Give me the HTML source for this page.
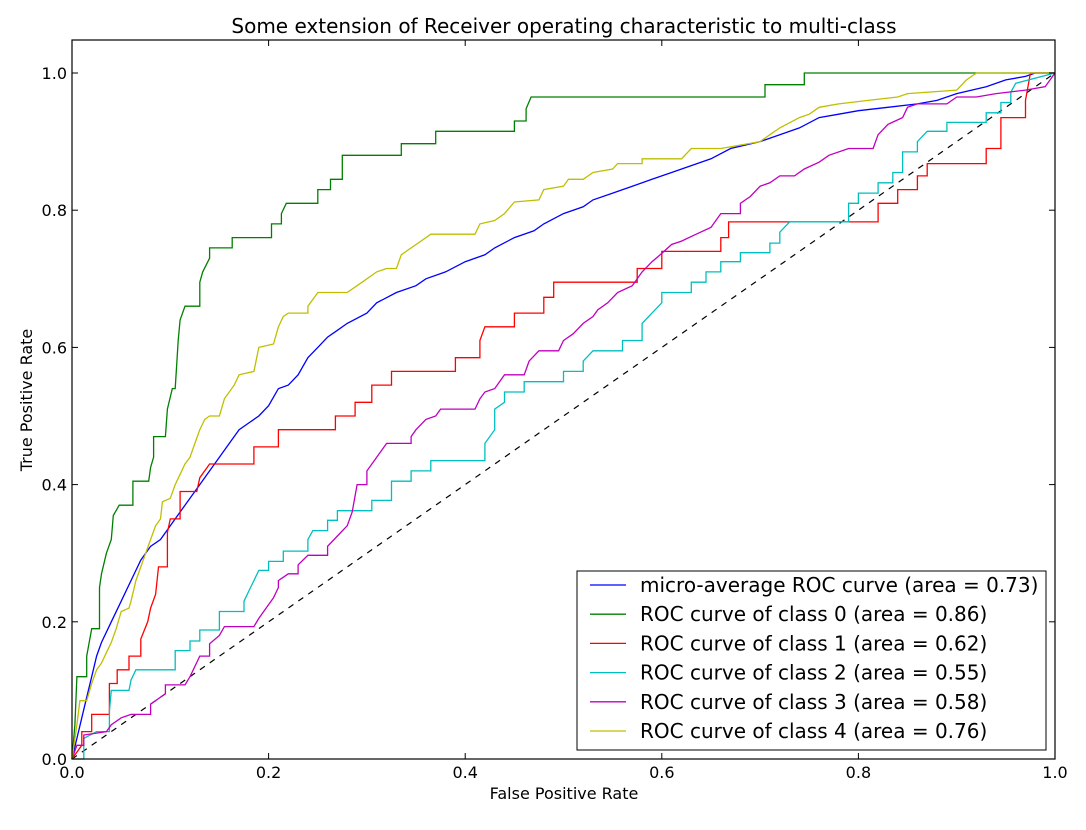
<!DOCTYPE html>
<html><head><meta charset="utf-8"><style>
body{margin:0;background:#fff;}
text{font-family:"DejaVu Sans","Liberation Sans",sans-serif;}
</style></head><body>
<svg id="chart" width="1086" height="825" xmlns="http://www.w3.org/2000/svg">
<rect width="1086" height="825" fill="#fff"/>
<text x="564" y="33" font-size="20" text-anchor="middle">Some extension of Receiver operating characteristic to multi-class</text>
<text x="564" y="799" font-size="16" text-anchor="middle">False Positive Rate</text>
<text x="32" y="400" font-size="16" text-anchor="middle" transform="rotate(-90 32 400)">True Positive Rate</text>
<g id="plot"></g>
</svg>
<script>
const xTicks=[0,0.2,0.4,0.6,0.8,1.0];
const yTicks=[0,0.2,0.4,0.6,0.8,1.0];
const xTickLabels=["0.0","0.2","0.4","0.6","0.8","1.0"];
const yTickLabels=["0.0","0.2","0.4","0.6","0.8","1.0"];
const seriesNames=["micro-average ROC curve (area = 0.73)","ROC curve of class 0 (area = 0.86)","ROC curve of class 1 (area = 0.62)","ROC curve of class 2 (area = 0.55)","ROC curve of class 3 (area = 0.58)","ROC curve of class 4 (area = 0.76)"];
const seriesColors=["#0000ff","#008000","#ff0000","#00bfbf","#bf00bf","#bfbf00"];
const microFpr=[0,0.005,0.01,0.015,0.02,0.025,0.03,0.04,0.05,0.06,0.07,0.08,0.09,0.1,0.11,0.12,0.13,0.14,0.15,0.16,0.17,0.18,0.19,0.2,0.21,0.22,0.23,0.24,0.25,0.26,0.27,0.28,0.3,0.31,0.33,0.35,0.36,0.38,0.4,0.42,0.43,0.45,0.47,0.48,0.5,0.52,0.53,0.55,0.57,0.59,0.61,0.63,0.65,0.67,0.7,0.72,0.74,0.76,0.78,0.8,0.83,0.86,0.88,0.9,0.93,0.95,0.97,0.98,1];
const microTpr=[0,0.03,0.06,0.09,0.12,0.15,0.17,0.2,0.23,0.26,0.29,0.31,0.32,0.34,0.36,0.38,0.4,0.42,0.44,0.46,0.48,0.49,0.5,0.515,0.54,0.545,0.56,0.585,0.6,0.615,0.625,0.635,0.65,0.665,0.68,0.69,0.7,0.71,0.725,0.735,0.745,0.76,0.77,0.78,0.795,0.805,0.815,0.825,0.835,0.845,0.855,0.865,0.875,0.89,0.9,0.91,0.92,0.935,0.94,0.945,0.95,0.955,0.96,0.97,0.98,0.99,0.995,1,1];
const c0Fpr=[0,0.003,0.005,0.015,0.015,0.02,0.028,0.028,0.03,0.035,0.04,0.042,0.048,0.062,0.062,0.078,0.08,0.083,0.083,0.095,0.097,0.102,0.105,0.108,0.11,0.115,0.13,0.13,0.133,0.14,0.14,0.163,0.163,0.203,0.203,0.213,0.213,0.218,0.25,0.25,0.263,0.263,0.275,0.275,0.335,0.335,0.37,0.37,0.45,0.45,0.462,0.462,0.467,0.705,0.705,0.745,0.745,1];
const c0Tpr=[0,0.05,0.12,0.12,0.15,0.19,0.19,0.25,0.27,0.3,0.32,0.355,0.37,0.37,0.405,0.405,0.425,0.44,0.47,0.47,0.51,0.54,0.54,0.61,0.64,0.66,0.66,0.695,0.71,0.73,0.745,0.745,0.76,0.76,0.78,0.78,0.795,0.81,0.81,0.83,0.83,0.845,0.845,0.88,0.88,0.897,0.897,0.915,0.915,0.93,0.93,0.948,0.965,0.965,0.983,0.983,1,1];
const c1Fpr=[0,0.01,0.01,0.02,0.02,0.038,0.038,0.046,0.046,0.058,0.058,0.07,0.07,0.077,0.08,0.085,0.088,0.097,0.097,0.1,0.11,0.11,0.127,0.13,0.14,0.185,0.185,0.21,0.21,0.268,0.268,0.288,0.288,0.305,0.305,0.325,0.325,0.39,0.39,0.415,0.415,0.42,0.45,0.45,0.48,0.48,0.49,0.49,0.575,0.575,0.6,0.6,0.66,0.66,0.668,0.668,0.82,0.82,0.84,0.84,0.86,0.86,0.87,0.87,0.93,0.93,0.945,0.945,0.97,0.97,0.975,1];
const c1Tpr=[0,0.02,0.04,0.04,0.065,0.065,0.11,0.11,0.13,0.13,0.15,0.15,0.175,0.2,0.22,0.24,0.28,0.28,0.33,0.35,0.35,0.39,0.39,0.41,0.43,0.43,0.455,0.455,0.48,0.48,0.5,0.5,0.52,0.52,0.545,0.545,0.565,0.565,0.585,0.585,0.61,0.63,0.63,0.65,0.65,0.673,0.673,0.695,0.695,0.715,0.715,0.74,0.74,0.76,0.76,0.783,0.783,0.81,0.81,0.83,0.83,0.85,0.85,0.868,0.868,0.89,0.89,0.935,0.935,0.96,1,1];
const c2Fpr=[0,0.012,0.012,0.025,0.038,0.038,0.04,0.058,0.06,0.065,0.105,0.105,0.12,0.12,0.13,0.13,0.15,0.15,0.175,0.175,0.18,0.185,0.19,0.2,0.2,0.215,0.215,0.24,0.24,0.245,0.26,0.26,0.27,0.27,0.305,0.305,0.325,0.325,0.345,0.345,0.365,0.365,0.42,0.42,0.43,0.43,0.44,0.44,0.46,0.46,0.5,0.5,0.52,0.52,0.53,0.56,0.56,0.58,0.58,0.59,0.6,0.6,0.63,0.63,0.645,0.645,0.66,0.66,0.68,0.68,0.71,0.71,0.72,0.72,0.73,0.79,0.79,0.8,0.8,0.82,0.82,0.835,0.835,0.845,0.845,0.86,0.86,0.87,0.89,0.89,0.93,0.93,0.945,0.945,0.955,0.955,0.96,1];
const c2Tpr=[0,0,0.03,0.04,0.04,0.07,0.1,0.1,0.115,0.13,0.13,0.158,0.158,0.172,0.172,0.188,0.188,0.215,0.215,0.23,0.245,0.26,0.275,0.275,0.288,0.288,0.303,0.303,0.32,0.333,0.333,0.348,0.348,0.362,0.362,0.377,0.377,0.405,0.405,0.42,0.42,0.435,0.435,0.46,0.48,0.51,0.52,0.535,0.535,0.55,0.55,0.565,0.565,0.58,0.595,0.595,0.61,0.61,0.635,0.65,0.665,0.68,0.68,0.695,0.695,0.71,0.71,0.725,0.725,0.738,0.738,0.752,0.752,0.768,0.783,0.783,0.81,0.81,0.825,0.825,0.84,0.84,0.855,0.855,0.885,0.885,0.9,0.915,0.915,0.928,0.928,0.942,0.942,0.957,0.957,0.972,0.985,1];
const c3Fpr=[0,0.005,0.012,0.012,0.035,0.04,0.05,0.06,0.08,0.08,0.095,0.095,0.115,0.12,0.125,0.13,0.14,0.14,0.15,0.155,0.185,0.19,0.195,0.2,0.205,0.21,0.21,0.22,0.23,0.23,0.24,0.26,0.26,0.27,0.28,0.285,0.29,0.3,0.3,0.31,0.32,0.345,0.345,0.35,0.36,0.37,0.375,0.41,0.415,0.42,0.43,0.44,0.46,0.465,0.475,0.495,0.5,0.51,0.52,0.53,0.535,0.545,0.555,0.57,0.58,0.59,0.6,0.61,0.62,0.635,0.65,0.66,0.68,0.68,0.69,0.7,0.71,0.72,0.735,0.745,0.76,0.77,0.79,0.815,0.82,0.83,0.845,0.85,0.86,0.89,0.9,0.92,0.94,0.97,0.99,1];
const c3Tpr=[0,0.02,0.02,0.035,0.04,0.05,0.06,0.065,0.065,0.08,0.095,0.108,0.108,0.12,0.135,0.15,0.15,0.168,0.18,0.193,0.193,0.205,0.215,0.225,0.235,0.25,0.26,0.27,0.27,0.283,0.297,0.297,0.31,0.325,0.34,0.36,0.4,0.4,0.42,0.44,0.46,0.46,0.47,0.48,0.495,0.5,0.51,0.51,0.525,0.535,0.54,0.56,0.56,0.58,0.595,0.595,0.61,0.62,0.635,0.645,0.655,0.665,0.68,0.69,0.71,0.725,0.737,0.75,0.755,0.765,0.775,0.795,0.795,0.81,0.82,0.835,0.84,0.85,0.85,0.86,0.87,0.88,0.89,0.89,0.91,0.925,0.935,0.95,0.955,0.955,0.965,0.965,0.97,0.975,0.98,1];
const c4Fpr=[0,0.005,0.008,0.015,0.02,0.025,0.03,0.035,0.04,0.045,0.05,0.058,0.06,0.065,0.07,0.075,0.08,0.085,0.09,0.092,0.1,0.105,0.11,0.115,0.12,0.125,0.13,0.135,0.14,0.15,0.155,0.165,0.17,0.185,0.19,0.205,0.21,0.215,0.22,0.24,0.24,0.25,0.28,0.29,0.3,0.31,0.32,0.33,0.335,0.345,0.355,0.365,0.41,0.415,0.43,0.44,0.45,0.475,0.48,0.5,0.505,0.52,0.53,0.55,0.555,0.58,0.58,0.62,0.63,0.66,0.7,0.71,0.72,0.74,0.75,0.76,0.78,0.81,0.84,0.85,0.9,0.91,0.92,1];
const c4Tpr=[0,0.05,0.085,0.085,0.11,0.13,0.14,0.155,0.17,0.19,0.215,0.22,0.23,0.26,0.28,0.3,0.32,0.34,0.35,0.375,0.38,0.4,0.415,0.43,0.44,0.46,0.48,0.495,0.5,0.5,0.525,0.545,0.56,0.565,0.6,0.605,0.63,0.645,0.65,0.65,0.66,0.68,0.68,0.69,0.7,0.71,0.715,0.715,0.735,0.745,0.755,0.765,0.765,0.78,0.785,0.795,0.812,0.815,0.83,0.835,0.845,0.845,0.855,0.86,0.868,0.868,0.875,0.875,0.89,0.89,0.9,0.91,0.92,0.935,0.94,0.95,0.955,0.96,0.965,0.97,0.975,0.99,1,1];
const allFpr=[microFpr,c0Fpr,c1Fpr,c2Fpr,c3Fpr,c4Fpr];
const allTpr=[microTpr,c0Tpr,c1Tpr,c2Tpr,c3Tpr,c4Tpr];

const L=72,R=1055,B=759,T=40;
const xs=v=>L+v*(R-L);
const ys=v=>B-v*(B-73);
const NS="http://www.w3.org/2000/svg";
const g=document.getElementById('plot');
function mk(tag,attrs){const e=document.createElementNS(NS,tag);for(const k in attrs)e.setAttribute(k,attrs[k]);g.appendChild(e);return e;}

let d=mk('line',{x1:xs(0),y1:ys(0),x2:xs(1),y2:ys(1),stroke:'#000','stroke-width':1.2,'stroke-dasharray':'6,6'});



for(let s=0;s<allFpr.length;s++){
  const pts=allFpr[s].map((f,i)=>xs(f).toFixed(1)+','+ys(allTpr[s][i]).toFixed(1)).join(' ');
  const p=mk('polyline',{points:pts,fill:'none',stroke:seriesColors[s],'stroke-width':1.3});
  
  
}

let fr=mk('rect',{x:L,y:T,width:R-L,height:B-T,fill:'none',stroke:'#000','stroke-width':1.2});



xTicks.forEach((v,i)=>{
  const x=xs(v);
  mk('line',{x1:x,y1:B,x2:x,y2:B-6,stroke:'#000'});
  mk('line',{x1:x,y1:T,x2:x,y2:T+6,stroke:'#000'});
  const t=mk('text',{x:x,y:B+19,'font-size':16,'text-anchor':'middle'});
  t.textContent=xTickLabels[i];
  
  
});
yTicks.forEach((v,i)=>{
  const y=ys(v);
  mk('line',{x1:L,y1:y,x2:L+6,y2:y,stroke:'#000'});
  mk('line',{x1:R,y1:y,x2:R-6,y2:y,stroke:'#000'});
  const t=mk('text',{x:L-5,y:y+6,'font-size':16,'text-anchor':'end'});
  t.textContent=yTickLabels[i];
  
  
});

let lg=mk('rect',{x:577,y:571,width:469,height:179,fill:'#fff',stroke:'#000','stroke-width':1});


seriesNames.forEach((n,i)=>{
  const y=585+i*29.2;
  const l=mk('line',{x1:590,y1:y,x2:626,y2:y,stroke:seriesColors[i],'stroke-width':1.3});
  
  
  const t=mk('text',{x:640,y:y+7,'font-size':20});
  t.textContent=n;
  
  
});
</script>
</body></html>
